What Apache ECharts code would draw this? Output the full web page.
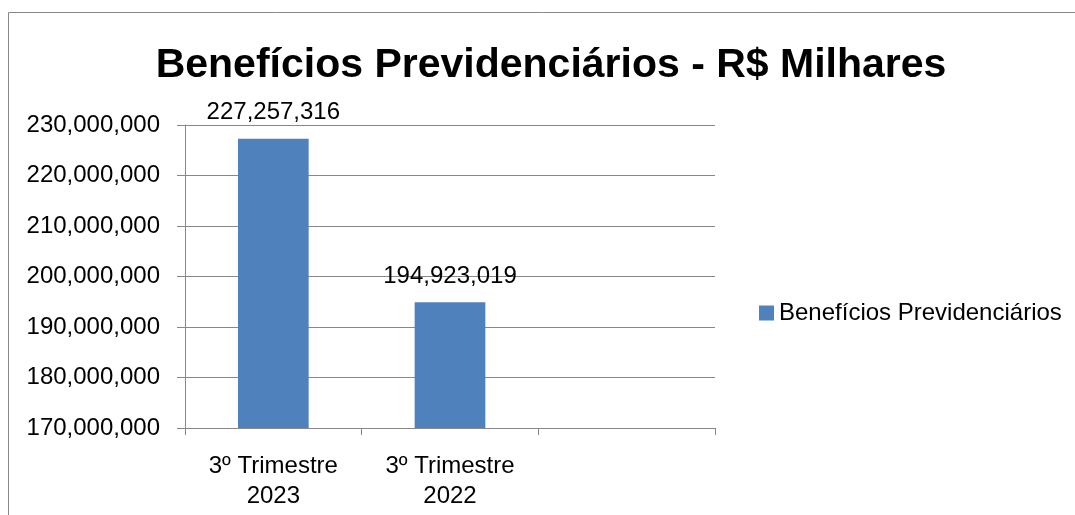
<!DOCTYPE html>
<html><head><meta charset="utf-8">
<script src="https://cdn.jsdelivr.net/npm/echarts@6/dist/echarts.min.js"></script>
<style>html,body{margin:0;padding:0;background:#fff}#c{width:1075px;height:515px}</style>
</head><body><div id="c"></div>
<script>
const categories = ['3º Trimestre\n2023', '3º Trimestre\n2022', ''];
const values = [227257316, 194923019, null];
const seriesName = 'Benefícios Previdenciários';
const titleText = 'Benefícios Previdenciários - R$ Milhares';
const yMin = 170000000, yMax = 230000000, yStep = 10000000;

const FONT = 'Liberation Sans';
const fmt = v => Number(v).toLocaleString('en-US');
const chart = echarts.init(document.getElementById('c'), null, {renderer: 'canvas'});
chart.setOption({
  animation: false,
  backgroundColor: '#fff',
  graphic: [{type: 'rect', shape: {x: 8.5, y: 12.5, width: 1200, height: 700},
    style: {fill: 'none', stroke: '#888', lineWidth: 1}, silent: true}],
  title: {text: titleText, left: 546, textAlign: 'center', top: 40,
    textStyle: {fontFamily: FONT, fontWeight: 'bold', fontSize: 41, color: '#000'}},
  legend: {data: [seriesName], left: 754, top: 296, orient: 'vertical',
    itemWidth: 15, itemHeight: 15, itemGap: 6,
    textStyle: {fontFamily: FONT, fontSize: 24, color: '#000', padding: [0, 0, 0, 0]},
    icon: 'rect'},
  grid: {left: 185, right: 360, top: 125, bottom: 87, containLabel: false},
  xAxis: {type: 'category', data: categories, boundaryGap: true,
    axisLine: {lineStyle: {color: '#888', width: 1}},
    axisTick: {show: true, length: 7, alignWithLabel: false, interval: 0, lineStyle: {color: '#888'}},
    axisLabel: {interval: 0, margin: 23, lineHeight: 30, fontFamily: FONT, fontSize: 24, color: '#000'}},
  yAxis: {type: 'value', min: yMin, max: yMax, interval: yStep,
    axisLine: {show: true, lineStyle: {color: '#888', width: 1}},
    axisTick: {show: true, length: 8, lineStyle: {color: '#888'}},
    splitLine: {show: true, lineStyle: {color: '#888', width: 1}},
    axisLabel: {margin: 25, fontFamily: FONT, fontSize: 24, color: '#000', formatter: fmt}},
  series: [{name: seriesName, type: 'bar', data: values, barWidth: '40%',
    itemStyle: {color: '#4f81bd'},
    label: {show: true, position: 'top', distance: 14, fontFamily: FONT, fontSize: 24, color: '#000',
      formatter: p => fmt(p.value)}}]
});
</script></body></html>
